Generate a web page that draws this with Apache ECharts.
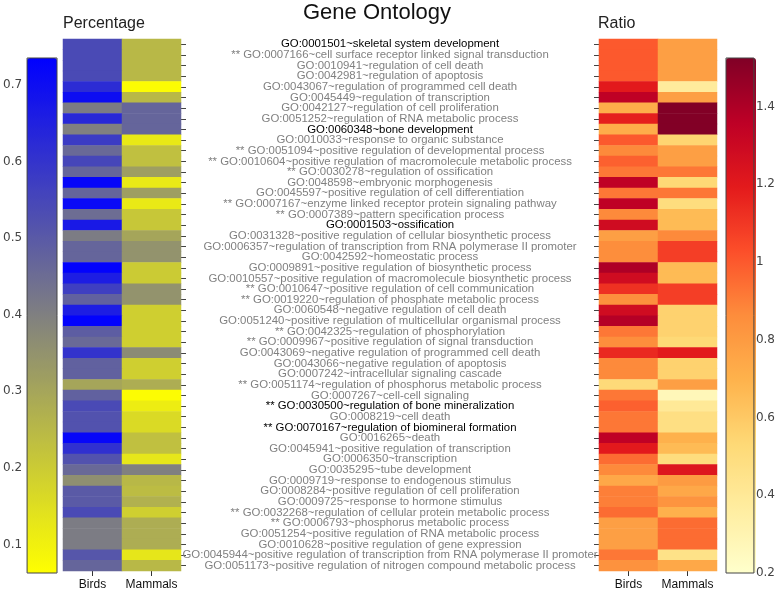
<!DOCTYPE html>
<html>
<head>
<meta charset="utf-8">
<script src="https://cdn.jsdelivr.net/npm/echarts@6/dist/echarts.min.js"></script>
<style>html,body{margin:0;padding:0;background:#fff}#c{width:778px;height:591px}</style>
</head>
<body>
<div id="c"></div>
<script>
const species = ['Birds', 'Mammals'];
const goTerms = [
  'GO:0001501~skeletal system development',
  '** GO:0007166~cell surface receptor linked signal transduction',
  'GO:0010941~regulation of cell death',
  'GO:0042981~regulation of apoptosis',
  'GO:0043067~regulation of programmed cell death',
  'GO:0045449~regulation of transcription',
  'GO:0042127~regulation of cell proliferation',
  'GO:0051252~regulation of RNA metabolic process',
  'GO:0060348~bone development',
  'GO:0010033~response to organic substance',
  '** GO:0051094~positive regulation of developmental process',
  '** GO:0010604~positive regulation of macromolecule metabolic process',
  '** GO:0030278~regulation of ossification',
  'GO:0048598~embryonic morphogenesis',
  'GO:0045597~positive regulation of cell differentiation',
  '** GO:0007167~enzyme linked receptor protein signaling pathway',
  '** GO:0007389~pattern specification process',
  'GO:0001503~ossification',
  'GO:0031328~positive regulation of cellular biosynthetic process',
  'GO:0006357~regulation of transcription from RNA polymerase II promoter',
  'GO:0042592~homeostatic process',
  'GO:0009891~positive regulation of biosynthetic process',
  'GO:0010557~positive regulation of macromolecule biosynthetic process',
  '** GO:0010647~positive regulation of cell communication',
  '** GO:0019220~regulation of phosphate metabolic process',
  'GO:0060548~negative regulation of cell death',
  'GO:0051240~positive regulation of multicellular organismal process',
  '** GO:0042325~regulation of phosphorylation',
  '** GO:0009967~positive regulation of signal transduction',
  'GO:0043069~negative regulation of programmed cell death',
  'GO:0043066~negative regulation of apoptosis',
  'GO:0007242~intracellular signaling cascade',
  '** GO:0051174~regulation of phosphorus metabolic process',
  'GO:0007267~cell-cell signaling',
  '** GO:0030500~regulation of bone mineralization',
  'GO:0008219~cell death',
  '** GO:0070167~regulation of biomineral formation',
  'GO:0016265~death',
  'GO:0045941~positive regulation of transcription',
  'GO:0006350~transcription',
  'GO:0035295~tube development',
  'GO:0009719~response to endogenous stimulus',
  'GO:0008284~positive regulation of cell proliferation',
  'GO:0009725~response to hormone stimulus',
  '** GO:0032268~regulation of cellular protein metabolic process',
  '** GO:0006793~phosphorus metabolic process',
  'GO:0051254~positive regulation of RNA metabolic process',
  'GO:0010628~positive regulation of gene expression',
  'GO:0045944~positive regulation of transcription from RNA polymerase II promoter',
  'GO:0051173~positive regulation of nitrogen compound metabolic process'
];
const boneTerms = [
  'GO:0001501~skeletal system development',
  'GO:0060348~bone development',
  'GO:0001503~ossification',
  '** GO:0030500~regulation of bone mineralization',
  '** GO:0070167~regulation of biomineral formation'
];
const percentBirds = [0.54,0.54,0.54,0.54,0.62,0.70,0.41,0.63,0.40,0.58,
  0.46,0.55,0.47,0.72,0.47,0.71,0.45,0.67,0.41,0.47,
  0.47,0.73,0.66,0.57,0.48,0.66,0.73,0.49,0.46,0.60,
  0.48,0.48,0.30,0.48,0.54,0.52,0.52,0.72,0.61,0.52,
  0.46,0.36,0.50,0.50,0.54,0.41,0.41,0.41,0.51,0.47];
const percentMammals = [0.25,0.25,0.25,0.25,0.07,0.25,0.47,0.47,0.47,0.12,
  0.23,0.23,0.32,0.12,0.32,0.12,0.21,0.21,0.30,0.35,
  0.35,0.20,0.20,0.35,0.35,0.19,0.19,0.19,0.19,0.37,
  0.19,0.19,0.28,0.07,0.11,0.16,0.16,0.23,0.23,0.13,
  0.40,0.25,0.24,0.27,0.19,0.28,0.28,0.28,0.13,0.25];
const ratioBirds = [1.0,1.0,1.0,1.0,1.2,1.35,0.72,1.18,0.72,1.0,
  0.87,0.98,0.92,1.35,0.92,1.35,0.87,1.28,0.78,0.86,
  0.86,1.4,1.28,1.12,0.85,1.28,1.38,0.92,0.86,1.15,
  0.87,0.87,0.52,0.92,0.98,0.92,0.92,1.35,1.2,0.95,
  0.87,0.74,0.9,0.9,0.95,0.78,0.78,0.78,0.92,0.84];
const ratioMammals = [0.78,0.78,0.78,0.78,0.38,0.78,1.52,1.52,1.52,0.55,
  0.78,0.78,0.92,0.53,0.92,0.5,0.66,0.66,0.87,1.08,
  1.08,0.66,0.66,1.08,1.08,0.56,0.56,0.56,0.53,1.2,
  0.56,0.56,0.78,0.27,0.4,0.48,0.48,0.7,0.66,0.5,
  1.22,0.8,0.74,0.83,0.7,0.95,0.95,0.95,0.46,0.74];
const percentRange = [0.063, 0.735];
const ratioRange = [0.2, 1.525];

function cells(a, b) {
  const out = [];
  goTerms.forEach((t, i) => { out.push([0, i, a[i]]); out.push([1, i, b[i]]); });
  return out;
}

const chart = echarts.init(document.getElementById('c'), null, {renderer: 'canvas'});
const FONT = '"Liberation Sans", Arial, sans-serif';
const LABEL_SIZE = 11.4;
const catAxisX = (gi) => ({
  type: 'category', gridIndex: gi, data: species, position: 'bottom',
  axisLine: {show: false},
  axisTick: {show: true, alignWithLabel: true, length: 5, lineStyle: {color: '#333'}},
  axisLabel: {interval: 0, color: '#111', fontSize: 12, fontFamily: FONT, margin: 8},
  splitLine: {show: false}
});
const labelData = goTerms.map(t => boneTerms.includes(t)
  ? {value: t, textStyle: {color: '#000', align: 'center', fontSize: LABEL_SIZE, fontFamily: FONT}} : t);

chart.setOption({
  animation: false,
  backgroundColor: '#fff',
  title: [
    {text: 'Gene Ontology', left: 303, top: 2, padding: 0, textStyle: {fontSize: 22, fontWeight: 'normal', color: '#111', fontFamily: FONT}},
    {text: 'Percentage', left: 63, top: 16, padding: 0, textStyle: {fontSize: 16, fontWeight: 'normal', color: '#222', fontFamily: FONT}},
    {text: 'Ratio', left: 598, top: 16, padding: 0, textStyle: {fontSize: 16, fontWeight: 'normal', color: '#222', fontFamily: FONT}}
  ],
  grid: [
    {left: 63, top: 39, width: 118, height: 533},
    {left: 599, top: 39, width: 118, height: 533},
    {left: 27, top: 58, width: 30, height: 515, show: true, z: 10, borderColor: '#444', borderWidth: 1, backgroundColor: 'transparent'},
    {left: 726, top: 58, width: 30, height: 515, show: true, z: 10, borderColor: '#444', borderWidth: 1, backgroundColor: 'transparent'}
  ],
  xAxis: [
    catAxisX(0), catAxisX(1),
    {type: 'value', gridIndex: 2, show: false, min: 0, max: 1},
    {type: 'value', gridIndex: 3, show: false, min: 0, max: 1}
  ],
  yAxis: [
    {type: 'category', gridIndex: 0, data: labelData, inverse: true, position: 'right',
     axisLine: {show: false},
     axisTick: {show: true, alignWithLabel: true, length: 5, interval: 0, lineStyle: {color: '#444'}},
     axisLabel: {interval: 0, align: 'center', margin: 209, color: '#808080', fontSize: LABEL_SIZE, fontFamily: FONT},
     splitLine: {show: false}},
    {type: 'category', gridIndex: 1, data: goTerms, inverse: true, position: 'left',
     axisLine: {show: false},
     axisTick: {show: true, alignWithLabel: true, length: 5, interval: 0, lineStyle: {color: '#444'}},
     axisLabel: {show: false}, splitLine: {show: false}},
    {type: 'value', gridIndex: 2, min: percentRange[0], max: percentRange[1], splitNumber: 7, position: 'left',
     axisLine: {show: false}, axisTick: {show: false}, splitLine: {show: false},
     axisLabel: {showMinLabel: false, showMaxLabel: false, margin: 5, color: '#444', fontSize: 12, fontFamily: '"DejaVu Sans", sans-serif'}},
    {type: 'value', gridIndex: 3, min: ratioRange[0], max: ratioRange[1], interval: 0.2, position: 'right',
     axisLine: {show: false}, axisTick: {show: false}, splitLine: {show: false},
     axisLabel: {showMaxLabel: false, margin: 2, color: '#444', fontSize: 12, fontFamily: '"DejaVu Sans", sans-serif'}}
  ],
  visualMap: [
    {type: 'continuous', seriesIndex: 0, min: percentRange[0], max: percentRange[1],
     calculable: false, left: 27, top: 58, itemWidth: 30, itemHeight: 515, padding: 0,
     inRange: {color: ['#ffff00', '#808080', '#0000ff']}},
    {type: 'continuous', seriesIndex: 1, min: ratioRange[0], max: ratioRange[1],
     calculable: false, left: 726, top: 58, itemWidth: 30, itemHeight: 515, padding: 0,
     inRange: {color: ['#ffffcc','#ffeda0','#fed976','#feb24c','#fd8d3c','#fc4e2a','#e31a1c','#bd0026','#800026']}}
  ],
  series: [
    {type: 'heatmap', xAxisIndex: 0, yAxisIndex: 0, data: cells(percentBirds, percentMammals)},
    {type: 'heatmap', xAxisIndex: 1, yAxisIndex: 1, data: cells(ratioBirds, ratioMammals)}
  ]
});
</script>
</body>
</html>
